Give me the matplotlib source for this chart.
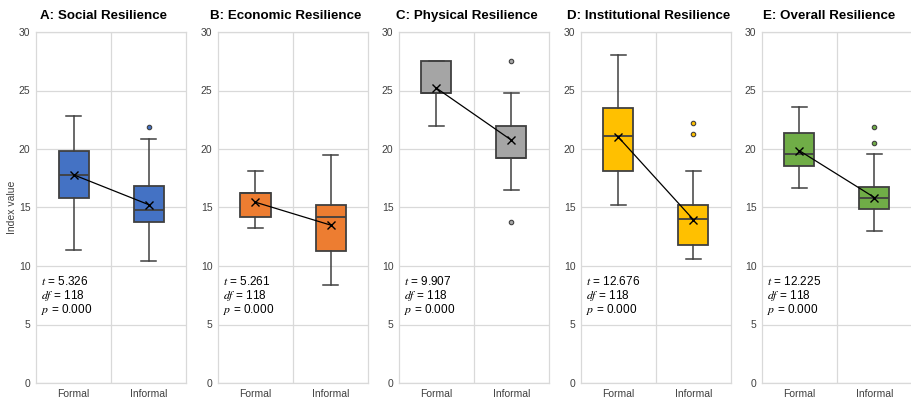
import matplotlib
matplotlib.use("Agg")
import matplotlib.pyplot as plt

plt.rcParams['font.family'] = ['Liberation Sans', 'DejaVu Sans']
plt.rcParams['mathtext.fontset'] = 'stix'

titles = ["A: Social Resilience", "B: Economic Resilience", "C: Physical Resilience",
          "D: Institutional Resilience", "E: Overall Resilience"]
groups = ["Formal", "Informal"]
colors = ["#4472C4", "#ED7D31", "#A5A5A5", "#FFC000", "#70AD47"]

# per panel: [formal, informal]
whislo = [[11.4, 10.4], [13.25, 8.4], [22.0, 16.5], [15.25, 10.6], [16.7, 13.0]]
q1 = [[15.8, 13.75], [14.15, 11.3], [24.75, 19.2], [18.1, 11.8], [18.55, 14.85]]
med = [[17.8, 14.8], [16.2, 14.2], [24.75, 19.2], [21.15, 14.0], [19.6, 15.85]]
q3 = [[19.8, 16.8], [16.2, 15.2], [27.5, 22.0], [23.5, 15.2], [21.35, 16.75]]
whishi = [[22.8, 20.85], [18.15, 19.45], [27.5, 24.75], [28.05, 18.15], [23.55, 19.55]]
means = [[17.8, 15.25], [15.45, 13.5], [25.2, 20.75], [21.0, 13.95], [19.85, 15.85]]
outliers = [[[], [21.85]], [[], []], [[], [27.5, 13.75]], [[], [22.25, 21.25]], [[], [21.9, 20.5]]]
t_vals = ["5.326", "5.261", "9.907", "12.676", "12.225"]
df_vals = ["118", "118", "118", "118", "118"]
p_vals = ["0.000", "0.000", "0.000", "0.000", "0.000"]

W, H = 912, 405
fig = plt.figure(figsize=(W / 100, H / 100), dpi=100)
lefts = [36, 218, 399, 581, 762]
aw = 150
bottom_px, top_px = 383, 32

edge = "#404040"
grid_c = "#D9D9D9"

for i in range(5):
    ax = fig.add_axes([lefts[i] / W, 1 - bottom_px / H, aw / W, (bottom_px - top_px) / H])
    stats = []
    for j in range(2):
        stats.append(dict(whislo=whislo[i][j], q1=q1[i][j], med=med[i][j], q3=q3[i][j],
                          whishi=whishi[i][j], fliers=outliers[i][j], mean=means[i][j]))
    ax.bxp(stats, positions=[0, 1], widths=0.4, patch_artist=True, showmeans=False,
           boxprops=dict(facecolor=colors[i], edgecolor=edge, linewidth=1.3),
           medianprops=dict(color=edge, linewidth=1.3),
           whiskerprops=dict(color=edge, linewidth=1.1),
           capprops=dict(color=edge, linewidth=1.1),
           capwidths=0.2,
           flierprops=dict(marker='o', markersize=3.2, markerfacecolor=colors[i],
                           markeredgecolor=edge, markeredgewidth=0.8),
           zorder=3)
    ax.plot([0, 1], means[i], color='black', linewidth=0.9, marker='x', markersize=6,
            markeredgewidth=1.0, zorder=5)
    ax.set_xlim(-0.5, 1.5)
    ax.set_ylim(0, 30)
    ax.set_yticks(range(0, 31, 5))
    ax.set_xticks([0, 1])
    ax.set_xticklabels(groups)
    ax.tick_params(length=0, labelsize=7.5, colors="#404040", pad=4)
    ax.yaxis.grid(True, color=grid_c, linewidth=0.9, zorder=0)
    ax.axvline(0.5, color=grid_c, linewidth=0.9, zorder=0)
    for s in ax.spines.values():
        s.set_color(grid_c)
        s.set_linewidth(0.9)
    ax.set_title(titles[i], fontsize=9.6, fontweight='bold', x=0.45, pad=9, color='black')
    ax.text(-0.43, 8.7, r"$\it{t}$" + " = " + t_vals[i], fontsize=8.5, va='center', ha='left')
    ax.text(-0.43, 7.5, r"$\it{df}$" + " = " + df_vals[i], fontsize=8.5, va='center', ha='left')
    ax.text(-0.43, 6.3, r"$\it{p}$" + " = " + p_vals[i], fontsize=8.5, va='center', ha='left')
    if i == 0:
        ax.set_ylabel("Index value", fontsize=7.5, color="#404040", labelpad=1)

fig.savefig("out.png", dpi=100)
